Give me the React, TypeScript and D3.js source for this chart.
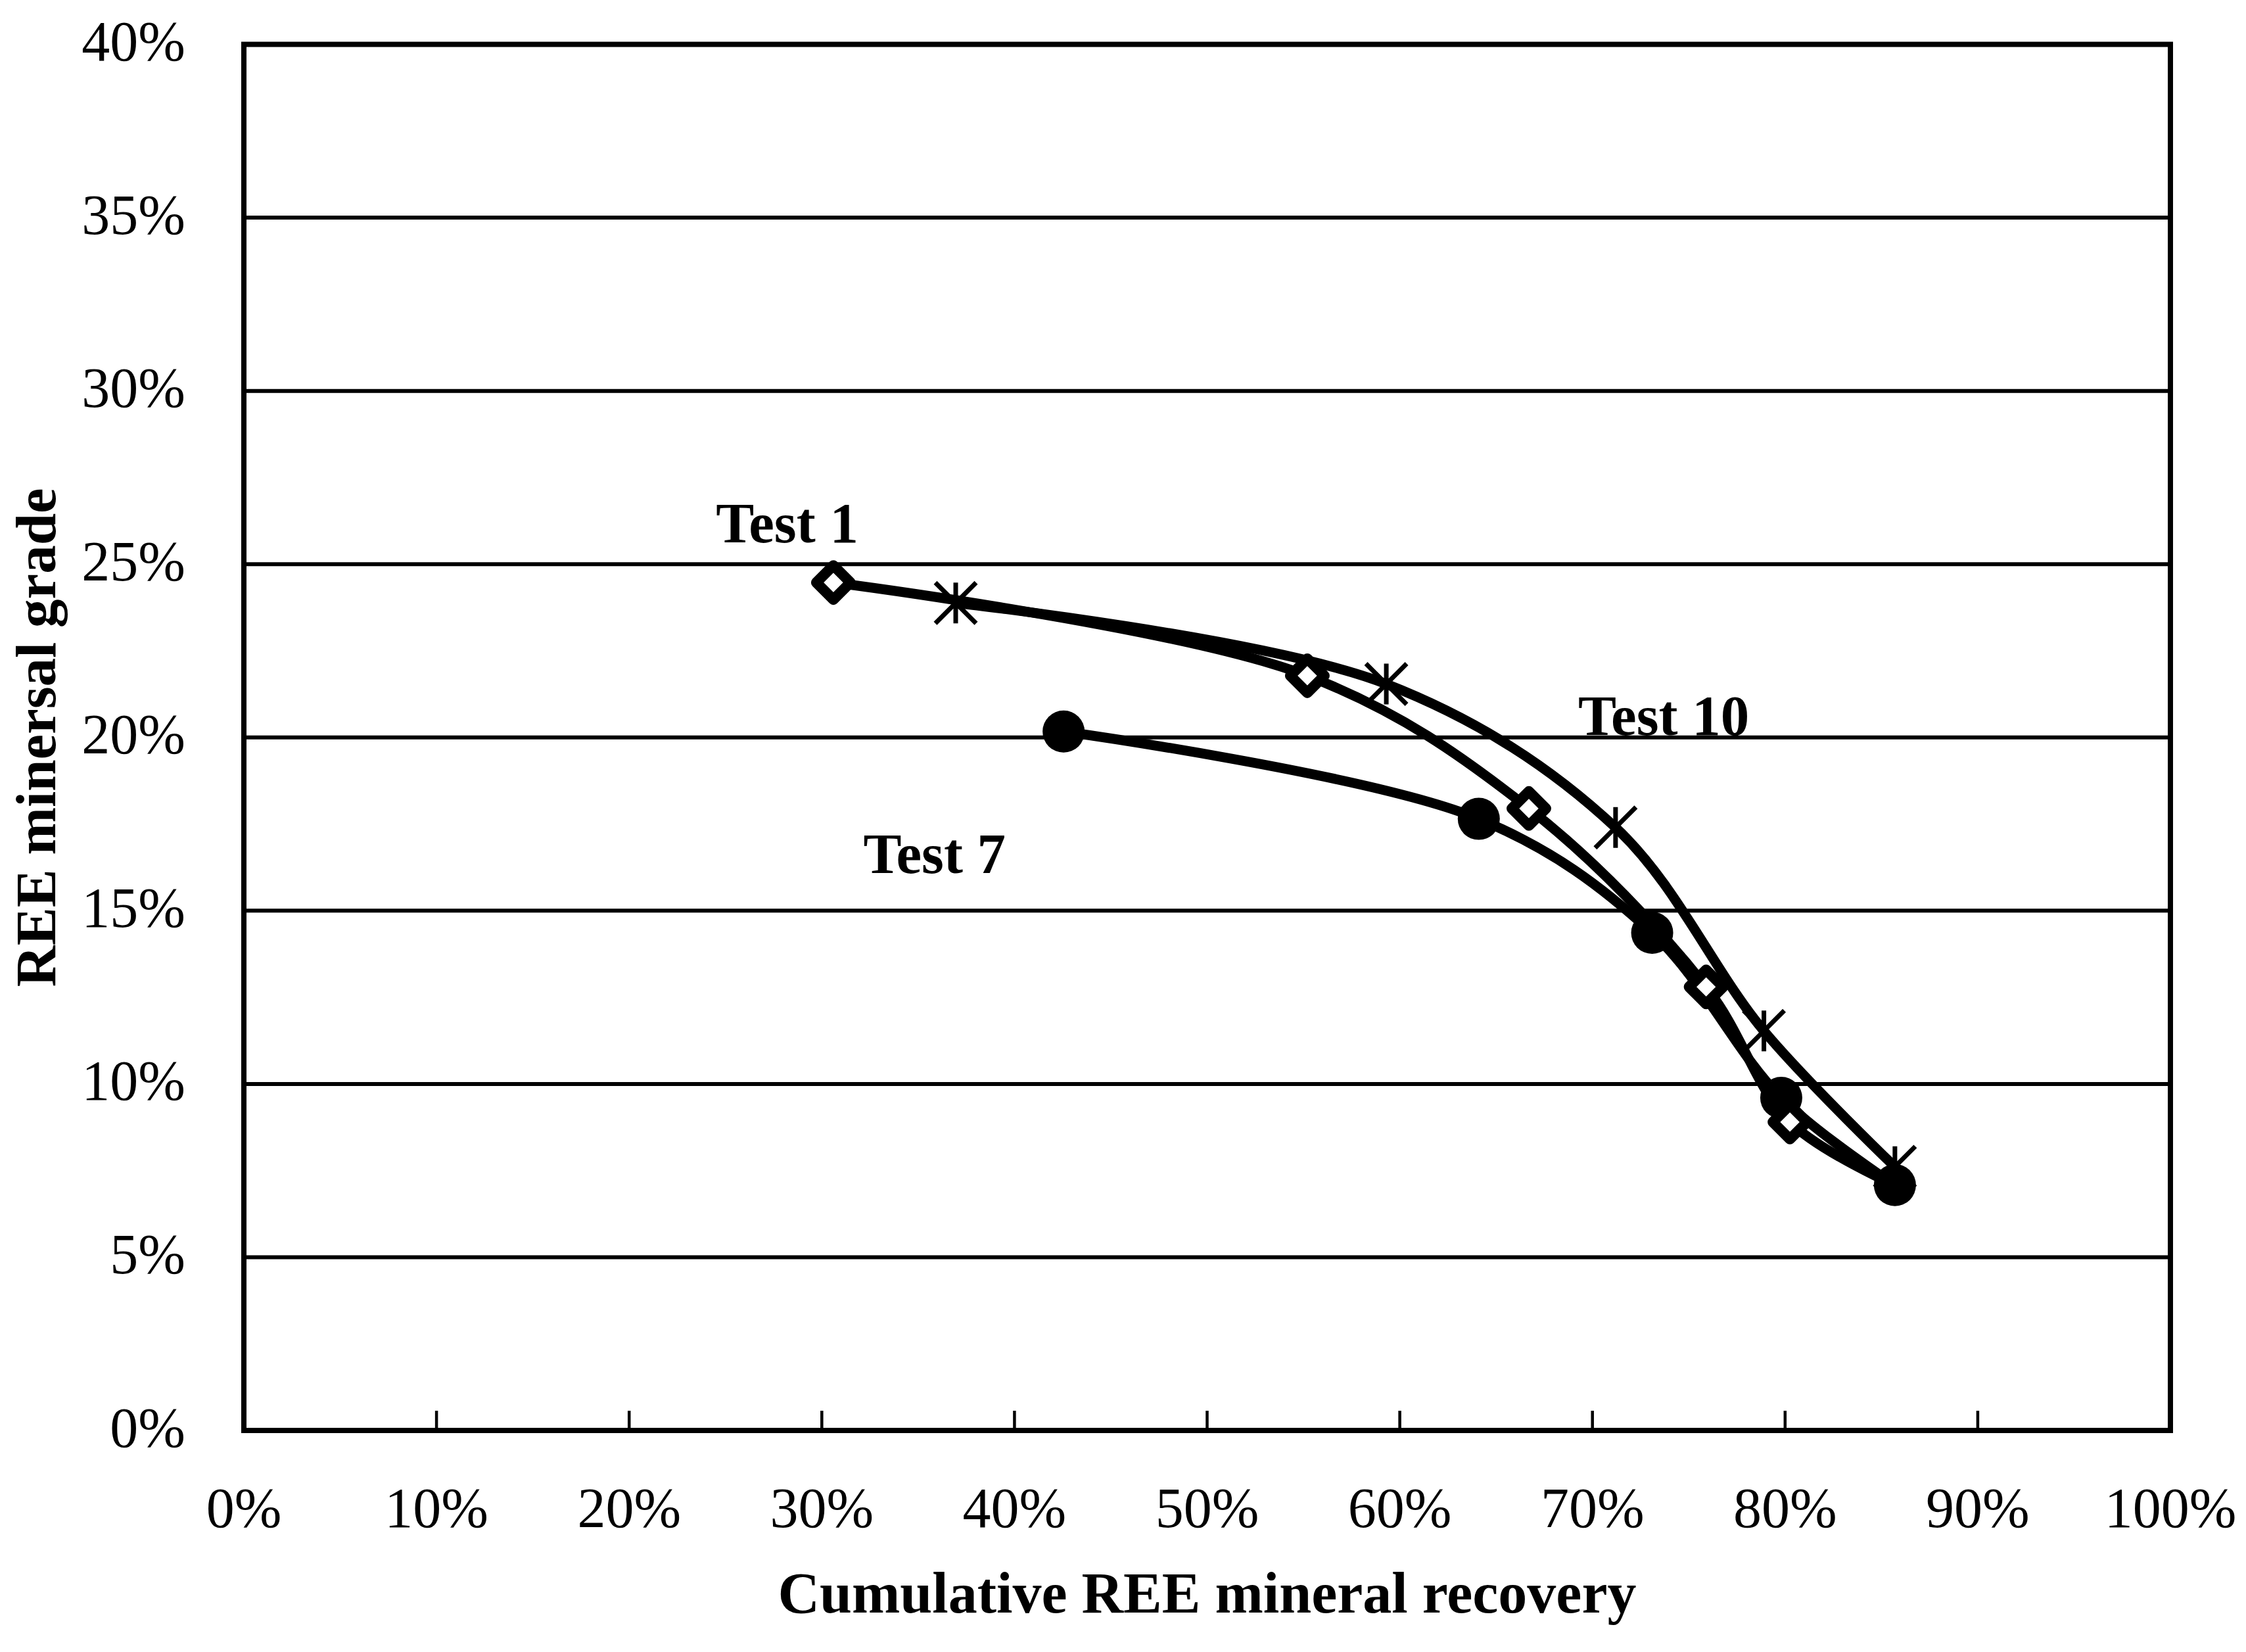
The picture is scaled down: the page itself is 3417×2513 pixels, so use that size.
import React, { useEffect } from 'react';
import * as d3 from 'd3';

const W = 3417;
const H = 2513;

// recovery (x) and grade (y) for each test
const test1Recovery = [0.306, 0.552, 0.667, 0.759, 0.8025, 0.857];
const test1Grade = [0.2447, 0.2178, 0.1795, 0.1280, 0.0890, 0.0708];

const test7Recovery = [0.4255, 0.641, 0.731, 0.798, 0.857];
const test7Grade = [0.2017, 0.1765, 0.1436, 0.0960, 0.0708];

const test10Recovery = [0.3695, 0.593, 0.712, 0.789, 0.857];
const test10Grade = [0.2388, 0.2154, 0.1740, 0.1153, 0.0761];

const xTicks = [0, 0.1, 0.2, 0.3, 0.4, 0.5, 0.6, 0.7, 0.8, 0.9, 1];
const yTicks = [0, 0.05, 0.1, 0.15, 0.2, 0.25, 0.3, 0.35, 0.4];

const labelNames = ['Test 1', 'Test 7', 'Test 10'];
const labelX = [0.282, 0.3585, 0.737];
const labelY = [0.2563, 0.1608, 0.2008];

const margin = { left: 371, right: W - 3302, top: 67.5, bottom: H - 2176 };

const App: React.FC = () => {
  useEffect(() => {
    document.body.style.margin = '0';
  }, []);

  const x = d3.scaleLinear().domain([0, 1]).range([margin.left, W - margin.right]);
  const y = d3.scaleLinear().domain([0, 0.4]).range([H - margin.bottom, margin.top]);
  const pct = d3.format('.0%');

  const line = d3
    .line<[number, number]>()
    .x(d => x(d[0]))
    .y(d => y(d[1]))
    .curve(d3.curveCatmullRom.alpha(0.5));

  const zip = (a: number[], b: number[]) => a.map((v, i) => [v, b[i]] as [number, number]);
  const t1 = zip(test1Recovery, test1Grade);
  const t7 = zip(test7Recovery, test7Grade);
  const t10 = zip(test10Recovery, test10Grade);

  const x0 = x(0);
  const x1 = x(1);
  const y0 = y(0);
  const yTop = y(0.4);

  const lineW = 15;
  const dia = 26;
  const star = 31;
  const serif = "'Liberation Serif', 'Times New Roman', serif";

  return (
    <svg width={W} height={H} style={{ display: 'block', background: '#fff' }}>
      <rect x={0} y={0} width={W} height={H} fill="#fff" />

      {/* gridlines */}
      {yTicks.filter(t => t > 0 && t < 0.4).map(t => (
        <line key={'g' + t} x1={x0} x2={x1} y1={y(t)} y2={y(t)} stroke="#000" strokeWidth={6} />
      ))}

      {/* plot frame */}
      <rect x={x0} y={yTop} width={x1 - x0} height={y0 - yTop} fill="none" stroke="#000" strokeWidth={8} />

      {/* x ticks pointing inward */}
      {xTicks.slice(1, -1).map(t => (
        <line key={'xt' + t} x1={x(t)} x2={x(t)} y1={y0} y2={y0 - 30} stroke="#000" strokeWidth={4.5} />
      ))}

      {/* y tick labels */}
      {yTicks.map(t => (
        <text key={'yl' + t} x={282} y={y(t) + 24.5} textAnchor="end" fontFamily={serif} fontSize={86}>
          {pct(t)}
        </text>
      ))}

      {/* x tick labels */}
      {xTicks.map(t => (
        <text key={'xl' + t} x={x(t)} y={y0 + 147} textAnchor="middle" fontFamily={serif} fontSize={86}>
          {pct(t)}
        </text>
      ))}

      {/* series lines */}
      <path d={line(t1) || ''} fill="none" stroke="#000" strokeWidth={lineW} strokeLinejoin="round" />
      <path d={line(t7) || ''} fill="none" stroke="#000" strokeWidth={lineW} strokeLinejoin="round" />
      <path d={line(t10) || ''} fill="none" stroke="#000" strokeWidth={lineW} strokeLinejoin="round" />

      {/* Test 7 markers: filled circles */}
      {t7.map((d, i) => (
        <circle key={'c' + i} cx={x(d[0])} cy={y(d[1])} r={32} fill="#000" />
      ))}

      {/* Test 10 markers: asterisks */}
      {t10.map((d, i) => {
        const cx = x(d[0]);
        const cy = y(d[1]);
        return (
          <path
            key={'s' + i}
            d={`M${cx},${cy - star}V${cy + star}M${cx - star},${cy - star}L${cx + star},${cy + star}M${cx + star},${cy - star}L${cx - star},${cy + star}`}
            stroke="#000"
            strokeWidth={7}
            fill="none"
          />
        );
      })}

      {/* Test 1 markers: open diamonds */}
      {t1.slice(0, -1).map((d, i) => {
        const cx = x(d[0]);
        const cy = y(d[1]);
        return (
          <path
            key={'d' + i}
            d={`M${cx},${cy - dia}L${cx + dia},${cy}L${cx},${cy + dia}L${cx - dia},${cy}Z`}
            fill="#fff"
            stroke="#000"
            strokeWidth={16}
            strokeLinejoin="round"
          />
        );
      })}

      {/* series labels */}
      {labelNames.map((name, i) => (
        <text
          key={name}
          x={x(labelX[i])}
          y={y(labelY[i])}
          textAnchor="middle"
          fontFamily={serif}
          fontWeight="bold"
          fontSize={87}
        >
          {name}
        </text>
      ))}

      {/* axis titles */}
      <text x={(x0 + x1) / 2} y={2453} textAnchor="middle" fontFamily={serif} fontWeight="bold" fontSize={88}>
        Cumulative REE mineral recovery
      </text>
      <text
        transform={`translate(84,${(y0 + yTop) / 2}) rotate(-90)`}
        textAnchor="middle"
        fontFamily={serif}
        fontWeight="bold"
        fontSize={87}
      >
        REE minersal grade
      </text>
    </svg>
  );
};

export default App;
